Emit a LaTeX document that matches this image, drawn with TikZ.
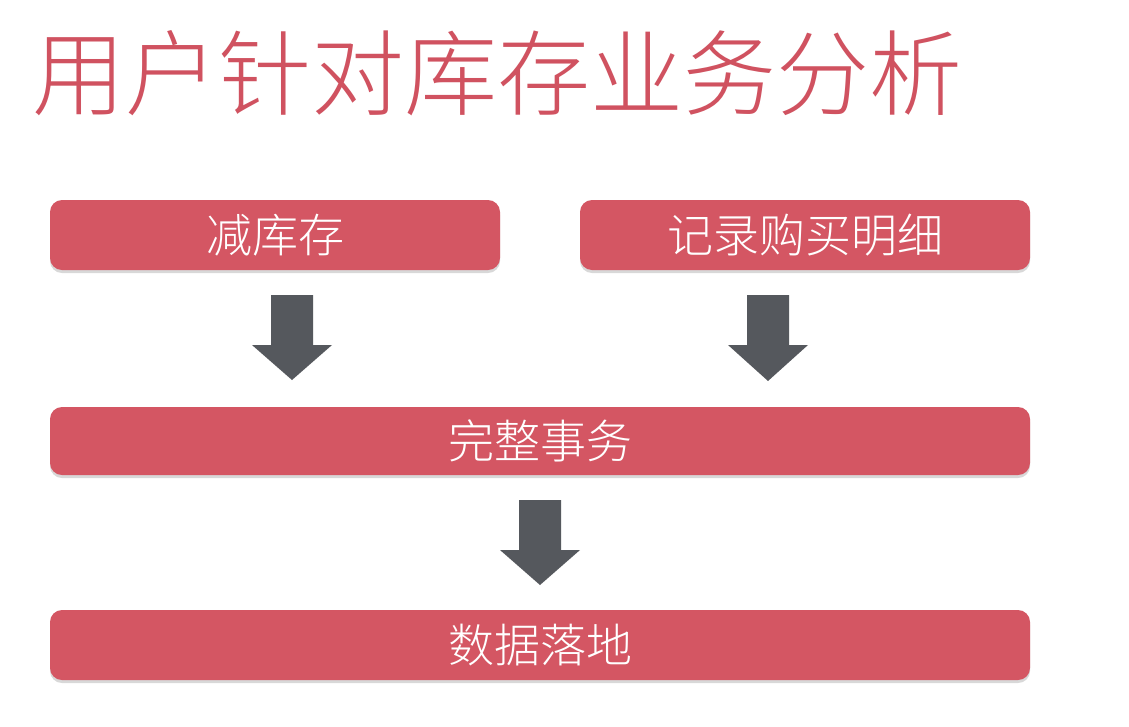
\documentclass[tikz,border=0pt]{standalone}
\usepackage{fontspec}
\newfontfamily\cjk{Noto Sans CJK SC Light}
\usetikzlibrary{shadows}
\definecolor{boxred}{RGB}{212,86,99}
\definecolor{titlered}{RGB}{208,82,96}
\definecolor{arrowgray}{RGB}{85,88,93}
\tikzset{
  box/.style={fill=boxred, rounded corners=12pt, text=white, font=\cjk\fontsize{46}{50}\selectfont,
    minimum height=70pt, inner sep=0pt,
    drop shadow={shadow xshift=0pt, shadow yshift=-3pt, opacity=0.25, fill=black!60}},
  blockarrow/.style={fill=arrowgray}
}
\newcommand{\downblock}[4]{% x, top, headtop, tip
  \fill[blockarrow] (#1-21,#2) -- (#1+21,#2) -- (#1+21,#3) -- (#1+40,#3) -- (#1,#4) -- (#1-40,#3) -- (#1-21,#3) -- cycle;}
\begin{document}
\begin{tikzpicture}[x=1pt,y=-1pt]
\useasboundingbox (0,0) rectangle (1129,726);
\fill[white] (0,0) rectangle (1129,726);
\node[anchor=west, text=titlered, font=\cjk\fontsize{93}{100}\selectfont, inner sep=0pt] (title) at (32,73) {用户针对库存业务分析};
\node[box, minimum width=450pt] (b1) at (275,235) {减库存};
\node[box, minimum width=450pt] (b2) at (805,235) {记录购买明细};
\node[box, minimum width=980pt, minimum height=68pt] (b3) at (540,441) {完整事务};
\node[box, minimum width=980pt] (b4) at (540,645) {数据落地};
\downblock{292}{295}{345}{380}
\downblock{768}{295}{345}{381}
\downblock{540}{500}{550}{585}
\end{tikzpicture}
\end{document}
